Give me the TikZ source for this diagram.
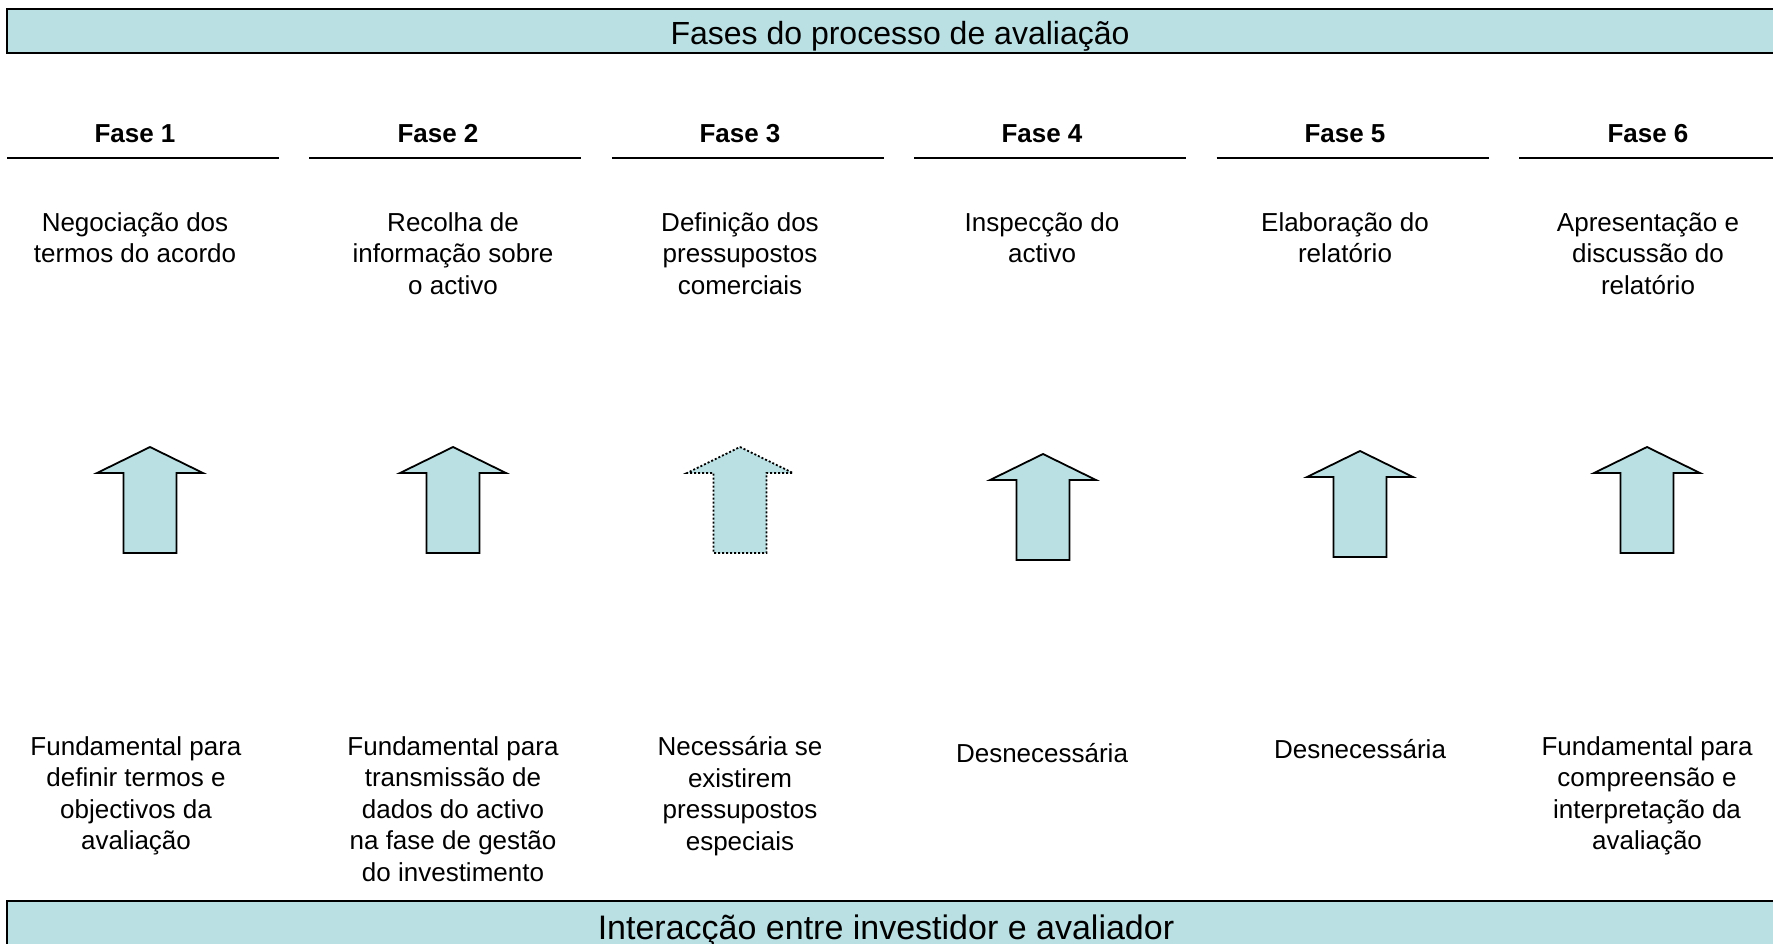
\documentclass[tikz,border=0pt]{standalone}
\usepackage{fontspec}
\setmainfont{Liberation Sans}
\usepackage{tikz}
\usetikzlibrary{calc}
\definecolor{faseazul}{RGB}{186,224,227}
\tikzset{setacima/.pic={
  \path[pic actions] (0,0)--(53,26)--(26.5,26)--(26.5,106)--(-26.5,106)--(-26.5,26)--(-53,26)--cycle;
}}

\begin{document}
\begin{tikzpicture}[x=0.5pt,y=-0.5pt,
    barra/.style={draw=black,line width=1pt,fill=faseazul},
    titulo/.style={font=\fontsize{16}{19}\selectfont,inner sep=0pt,anchor=base},
    fase/.style={font=\bfseries\fontsize{13}{15.75}\selectfont,inner sep=0pt,anchor=base},
    texto/.style={font=\fontsize{13}{15.75}\selectfont,align=center,inner sep=0pt,anchor=north},
    seta/.style={draw=black,line width=0.9pt,fill=faseazul,line join=miter},
    setapont/.style={seta,dash pattern=on 1pt off 1pt}]
  \clip (0,0) rectangle (1773,943);
  \draw[barra] (7,9) rectangle (1800,53);
  \node[titulo](topo)at(900,44){Fases do processo de avalia\c{c}\~ao};
  \foreach \i/\x in {1/135,2/438,3/740,4/1042,5/1345,6/1648}{
    \node[fase](f\i)at(\x,142){Fase \i};
    \draw[line width=1pt] ({7+302.4*(\i-1)},158) -- ++(272,0);
  }
  \node[texto](t1)at(135,212){Negocia\c{c}\~ao dos\\termos do acordo};
  \node[texto](t2)at(453,212){Recolha de\\informa\c{c}\~ao sobre\\o activo};
  \node[texto](t3)at(740,212){Defini\c{c}\~ao dos\\pressupostos\\comerciais};
  \node[texto](t4)at(1042,212){Inspec\c{c}\~ao do\\activo};
  \node[texto](t5)at(1345,212){Elabora\c{c}\~ao do\\relat\'orio};
  \node[texto](t6)at(1648,212){Apresenta\c{c}\~ao e\\discuss\~ao do\\relat\'orio};
  \pic (s1) [seta] at (150,447) {setacima};
  \pic (s2) [seta] at (453,447) {setacima};
  \pic (s3) [setapont] at (740,447) {setacima};
  \pic (s4) [seta] at (1043,454) {setacima};
  \pic (s5) [seta] at (1360,451) {setacima};
  \pic (s6) [seta] at (1647,447) {setacima};
  \node[texto](b1)at(136,736){Fundamental para\\definir termos e\\objectivos da\\avalia\c{c}\~ao};
  \node[texto](b2)at(453,736){Fundamental para\\transmiss\~ao de\\dados do activo\\na fase de gest\~ao\\do investimento};
  \node[texto](b3)at(740,736){Necess\'aria se\\existirem\\pressupostos\\especiais};
  \node[texto](b4)at(1042,743){Desnecess\'aria};
  \node[texto](b5)at(1360,739){Desnecess\'aria};
  \node[texto](b6)at(1647,736){Fundamental para\\compreens\~ao e\\interpreta\c{c}\~ao da\\avalia\c{c}\~ao};
  \draw[barra] (7,901) rectangle (1800,980);
  \node[titulo,font=\fontsize{17}{20}\selectfont](base)at(886,939){Interac\c{c}\~ao entre investidor e avaliador};
\end{tikzpicture}
\end{document}
